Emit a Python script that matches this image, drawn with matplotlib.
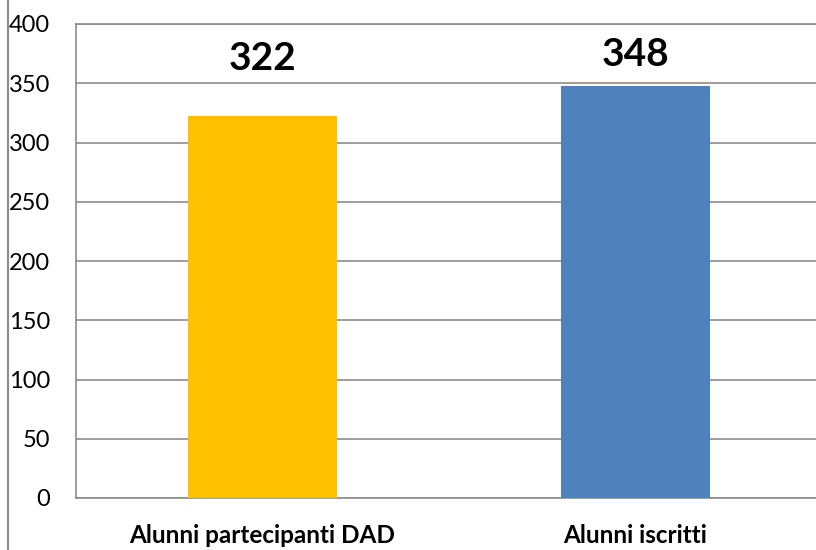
import matplotlib.pyplot as plt
from matplotlib.lines import Line2D

# dati
categorie = ["Alunni partecipanti DAD", "Alunni iscritti"]
valori = [322, 348]
colori = ["#FFC000", "#4F81BD"]
tick_y = [0, 50, 100, 150, 200, 250, 300, 350, 400]

plt.rcParams['font.family'] = ['Lato', 'DejaVu Sans']

fig = plt.figure(figsize=(8.16, 5.5), dpi=100)
# l'asse va un po' oltre il bordo destro, come nell'originale
ax = fig.add_axes([76/816, 52/550, 746/816, 474/550])

ax.bar(range(len(valori)), valori, width=0.4, color=colori, zorder=3)
ax.set_xlim(-0.5, 1.5)
ax.set_ylim(0, 400)
ax.set_yticks(tick_y)
ax.set_yticklabels([str(t) for t in tick_y], fontsize=17)
ax.set_xticks(range(len(categorie)))
ax.set_xticklabels(categorie, fontsize=17.5, fontweight='bold')
ax.tick_params(axis='y', length=0, pad=18.5)
ax.tick_params(axis='x', length=0, pad=19)

ax.grid(axis='y', color='#8c8c8c', linewidth=1.2, zorder=0)
ax.spines['right'].set_visible(False)
for s in ['left', 'bottom', 'top']:
    ax.spines[s].set_color('#8c8c8c')
    ax.spines[s].set_linewidth(1.2)

# etichette valori (altezza fissa in coordinate asse)
pos_lab = [0.928, 0.935]
for i, v in enumerate(valori):
    ax.text(i, pos_lab[i], str(v), transform=ax.get_xaxis_transform(),
            ha='center', va='center', fontsize=28, fontweight='bold')

# bordo esterno a sinistra
fig.add_artist(Line2D([8/816, 8/816], [0, 1], color='#8c8c8c', linewidth=1.5,
                      transform=fig.transFigure))

fig.savefig("out.png", dpi=100)
